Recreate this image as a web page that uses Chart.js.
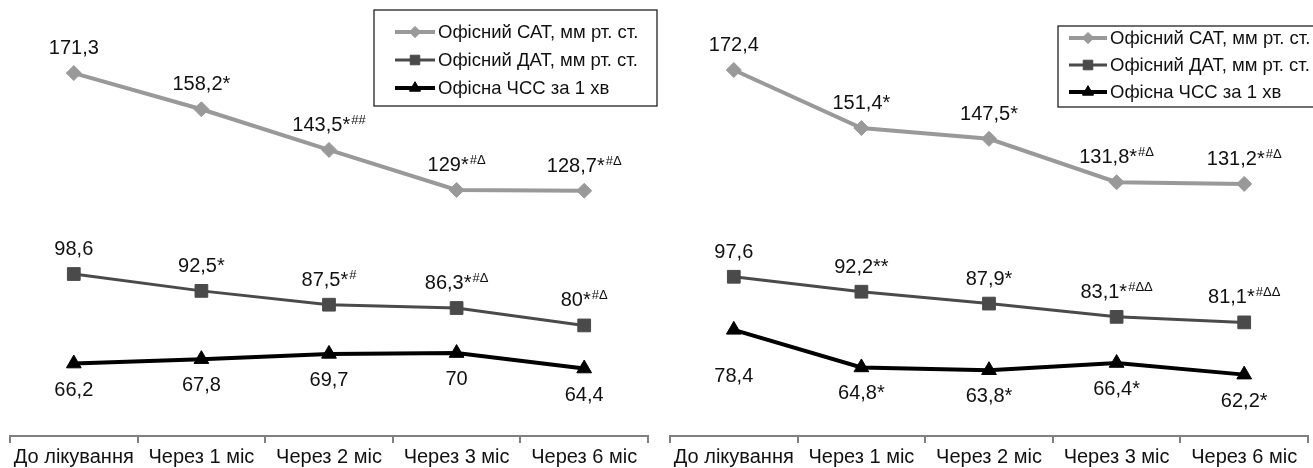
<!DOCTYPE html>
<html>
<head>
<meta charset="utf-8">
<script src="https://cdn.jsdelivr.net/npm/chart.js@4.4.0/dist/chart.umd.min.js"></script>
<style>
  body { margin: 0; background: #fff; }
  #wrap { position: relative; width: 1313px; height: 468px; overflow: hidden; }
  .panel { position: absolute; top: 0; height: 468px; }
</style>
</head>
<body>
<div id="wrap">
  <div class="panel" style="left:0;width:660px"><canvas id="left"></canvas></div>
  <div class="panel" style="left:660px;width:680px"><canvas id="right"></canvas></div>
</div>
<script>
// categories and series names
var categories = ['До лікування', 'Через 1 міс', 'Через 2 міс', 'Через 3 міс', 'Через 6 міс'];
var seriesNames = ['Офісний САТ, мм рт. ст.', 'Офісний ДАТ, мм рт. ст.', 'Офісна ЧСС за 1 хв'];

// left panel
var satLeft = [171.3, 158.2, 143.5, 129, 128.7];
var datLeft = [98.6, 92.5, 87.5, 86.3, 80];
var hrLeft = [66.2, 67.8, 69.7, 70, 64.4];
var satLeftMarks = ['', '*', '*##', '*#Δ', '*#Δ'];
var datLeftMarks = ['', '*', '*#', '*#Δ', '*#Δ'];
var hrLeftMarks = ['', '', '', '', ''];

// right panel
var satRight = [172.4, 151.4, 147.5, 131.8, 131.2];
var datRight = [97.6, 92.2, 87.9, 83.1, 81.1];
var hrRight = [78.4, 64.8, 63.8, 66.4, 62.2];
var satRightMarks = ['', '*', '*', '*#Δ', '*#Δ'];
var datRightMarks = ['', '**', '*', '*#ΔΔ', '*#ΔΔ'];
var hrRightMarks = ['', '*', '*', '*', '*'];

var yMin = 40, yMax = 180;

var FONT = '"Liberation Sans", Arial, sans-serif';

// value labels with small superscript part (# and Δ)
var valueLabels = {
    id: 'valueLabels',
    afterDatasetsDraw: function (chart, args, opts) {
        var ctx = chart.ctx;
        var nudge = opts.nudge || [];
        ctx.save();
        ctx.fillStyle = '#111';
        ctx.textBaseline = 'alphabetic';
        ctx.textAlign = 'left';
        chart.data.datasets.forEach(function (ds, i) {
            var meta = chart.getDatasetMeta(i);
            meta.data.forEach(function (pt, j) {
                var txt = String(ds.data[j]).replace('.', ',');
                var mk = ds.marks[j] || '';
                var stars = mk.match(/^\**/)[0];
                var sup = mk.slice(stars.length);
                var main = txt + stars;
                ctx.font = '20px ' + FONT;
                var w1 = ctx.measureText(main).width;
                ctx.font = '13px ' + FONT;
                var w2 = sup ? ctx.measureText(sup).width + 1 : 0;
                var dy = ds.labelSide === 'below' ? 25 : -26;
                nudge.forEach(function (n) {
                    if (n.ds === i && n.i === j) dy += n.dy;
                });
                var x = pt.x - (w1 + w2) / 2;
                var base = pt.y + dy + 7;
                ctx.font = '20px ' + FONT;
                ctx.fillText(main, x, base);
                if (sup) {
                    ctx.font = '13px ' + FONT;
                    ctx.fillText(sup, x + w1 + 1, base - 7);
                }
            });
        });
        ctx.restore();
    }
};

// boxed legend drawn inside the plot
var boxLegend = {
    id: 'boxLegend',
    afterDraw: function (chart, args, o) {
        var ctx = chart.ctx;
        ctx.save();
        ctx.strokeStyle = '#222';
        ctx.lineWidth = 1.3;
        ctx.strokeRect(o.x, o.y, o.w, o.h);
        chart.data.datasets.forEach(function (ds, i) {
            var y = o.rows[i];
            ctx.strokeStyle = ds.borderColor;
            ctx.fillStyle = ds.borderColor;
            ctx.lineWidth = ds.borderWidth;
            ctx.beginPath();
            ctx.moveTo(o.lineX, y);
            ctx.lineTo(o.lineX + o.lineLen, y);
            ctx.stroke();
            ctx.lineWidth = 1;
            Chart.helpers.drawPoint(ctx, {
                pointStyle: ds.pointStyle,
                radius: ds.pointRadius * 0.75,
                rotation: 0,
                borderWidth: 1
            }, o.lineX + o.lineLen / 2, y);
            ctx.fillStyle = '#111';
            ctx.font = '18.5px ' + FONT;
            ctx.textBaseline = 'middle';
            ctx.fillText(ds.label, o.lineX + o.lineLen + 3, y + 1);
        });
        ctx.restore();
    }
};

function makeDatasets(sat, dat, hr, satMarks, datMarks, hrMarks) {
    return [{
        label: seriesNames[0],
        data: sat,
        marks: satMarks,
        labelSide: 'above',
        borderColor: '#999999',
        backgroundColor: '#999999',
        borderWidth: 4,
        pointStyle: 'rectRot',
        pointRadius: 7.5,
        pointBorderWidth: 1
    }, {
        label: seriesNames[1],
        data: dat,
        marks: datMarks,
        labelSide: 'above',
        borderColor: '#4a4a4a',
        backgroundColor: '#4a4a4a',
        borderWidth: 3,
        pointStyle: 'rect',
        pointRadius: 9,
        pointBorderWidth: 1
    }, {
        label: seriesNames[2],
        data: hr,
        marks: hrMarks,
        labelSide: 'below',
        borderColor: '#000000',
        backgroundColor: '#000000',
        borderWidth: 4,
        pointStyle: 'triangle',
        pointRadius: 8.5,
        pointBorderWidth: 1
    }];
}

function makeConfig(datasets, padRight, legendOpts, nudge) {
    return {
        type: 'line',
        data: { labels: categories, datasets: datasets },
        options: {
            responsive: true,
            maintainAspectRatio: false,
            animation: false,
            layout: { padding: { left: 10, right: padRight, top: 49, bottom: -3 } },
            elements: { line: { tension: 0 } },
            plugins: {
                legend: { display: false },
                tooltip: { enabled: false },
                valueLabels: { nudge: nudge },
                boxLegend: legendOpts
            },
            scales: {
                x: {
                    offset: true,
                    grid: { offset: true, drawOnChartArea: false, tickLength: 7, color: '#808080', lineWidth: 2 },
                    border: { color: '#808080', width: 2 },
                    ticks: { color: '#111', font: { size: 20, family: FONT, lineHeight: 1 }, padding: 4, maxRotation: 0, autoSkip: false }
                },
                y: { display: false, min: yMin, max: yMax }
            }
        },
        plugins: [valueLabels, boxLegend]
    };
}

new Chart(document.getElementById('left').getContext('2d'), makeConfig(
    makeDatasets(satLeft, datLeft, hrLeft, satLeftMarks, datLeftMarks, hrLeftMarks),
    12,
    { x: 374, y: 10, w: 283, h: 96, rows: [32, 60, 88], lineX: 395, lineLen: 40 },
    []
));

new Chart(document.getElementById('right').getContext('2d'), makeConfig(
    makeDatasets(satRight, datRight, hrRight, satRightMarks, datRightMarks, hrRightMarks),
    32,
    { x: 398, y: 26, w: 300, h: 81, rows: [38, 65, 92], lineX: 409, lineLen: 38 },
    [{ ds: 2, i: 0, dy: 20 }]
));
</script>
</body>
</html>
